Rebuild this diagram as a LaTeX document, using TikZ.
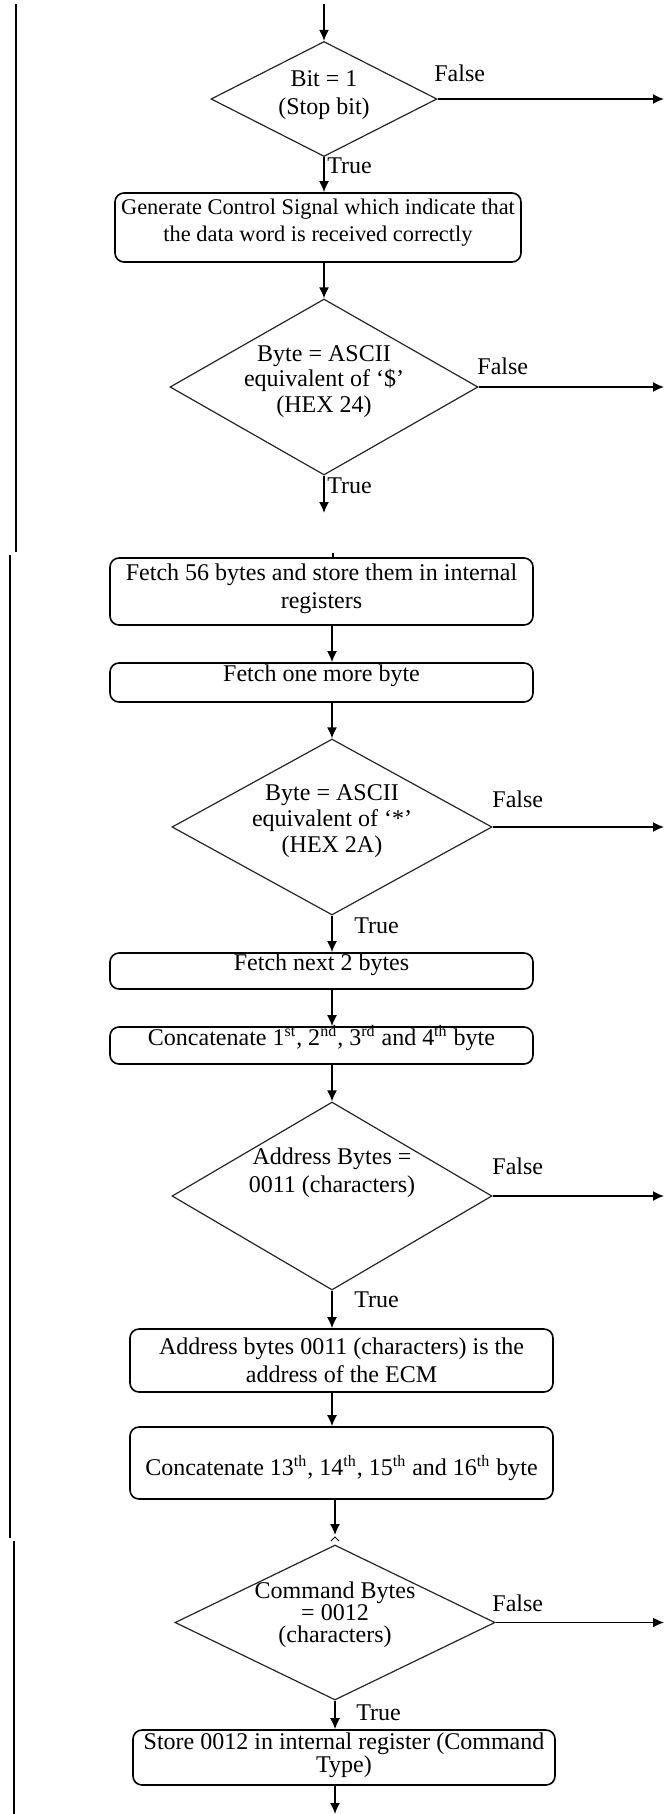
\documentclass[tikz,border=0pt]{standalone}
\usepackage{fontspec}
\setmainfont{Liberation Serif}
\usetikzlibrary{shapes.geometric,arrows.meta}
\begin{document}
\begin{tikzpicture}[x=0.5pt,y=-0.5pt,
  decision/.style={diamond,draw=black!85,line width=0.6pt,inner sep=0pt},
  stepbox/.style={rectangle,rounded corners=4.5pt,draw=black,line width=0.8pt,inner sep=0pt},
  txt/.style={align=center,inner sep=0pt,font=\fontsize{12}{14}\selectfont},
  lbl/.style={inner sep=0pt,font=\fontsize{12}{14}\selectfont},
  arr/.style={draw=black,line width=0.8pt,-{Latex[length=5.5pt,width=5pt]}},
  rail/.style={draw=black,line width=1pt}]

\fill[white] (0,0) rectangle (664,1814);
\useasboundingbox (0,0) rectangle (664,1814);

\coordinate (top) at (324,4);
\coordinate (edge) at (664,0);
\coordinate (bottom) at (0,1814);

% ---- first part: stop bit and start character ----
\node[decision,minimum width=113pt,minimum height=57.5pt] (d1) at (324,99) {};
\node[txt] (d1t) at (324,95.5) {Bit = 1\\(Stop bit)};
\node[lbl,anchor=west] (f1) at (434,73) {False};
\node[lbl,anchor=west] (tr1) at (327,166) {True};

\node[stepbox,minimum width=203pt,minimum height=34.5pt] (b1) at (318,227.5) {};
\node[txt,font=\fontsize{11.2}{13.5}\selectfont] (b1t) at (318,222.5)
  {Generate Control Signal which indicate that\\the data word is received correctly};

\node[decision,minimum width=154pt,minimum height=88pt] (d2) at (324,387) {};
\node[txt,font=\fontsize{12}{12.8}\selectfont] (d2t) at (324,381.5)
  {Byte = ASCII\\equivalent of ‘\$’\\(HEX 24)};
\node[lbl,anchor=west] (f2) at (477,366) {False};
\node[lbl,anchor=west] (tr2) at (327,486) {True};
\coordinate (gap1) at (324,513);

\draw[rail] (16,4) -- (16,552);

% ---- second part: frame bytes and address ----
\coordinate (stub) at (333,553);

\node[stepbox,minimum width=211.5pt,minimum height=33.5pt] (b2) at (321.5,591.5) {};
\node[txt] (b2t) at (321.5,589) {Fetch 56 bytes and store them in internal\\registers};

\node[stepbox,minimum width=211.5pt,minimum height=19.5pt] (b3) at (321.5,682.5) {};
\node[txt] (b3t) at (321.5,676) {Fetch one more byte};

\node[decision,minimum width=160pt,minimum height=88pt] (d3) at (332,827) {};
\node[txt,font=\fontsize{12}{12.8}\selectfont] (d3t) at (332,821)
  {Byte = ASCII\\equivalent of ‘*’\\(HEX 2A)};
\node[lbl,anchor=west] (f3) at (492,799) {False};
\node[lbl,anchor=west] (tr3) at (354,926) {True};

\node[stepbox,minimum width=211.5pt,minimum height=18pt] (b4) at (321.5,971) {};
\node[txt] (b4t) at (321.5,965) {Fetch next 2 bytes};

\node[stepbox,minimum width=211.5pt,minimum height=18.5pt] (b5) at (321.5,1045.5) {};
\node[txt] (b5t) at (321.5,1038)
  {Concatenate 1\textsuperscript{st}, 2\textsuperscript{nd}, 3\textsuperscript{rd} and 4\textsuperscript{th} byte};

\node[decision,minimum width=160pt,minimum height=94pt] (d4) at (332,1196) {};
\node[txt] (d4t) at (332,1173) {Address Bytes =\\0011 (characters)};
\node[lbl,anchor=west] (f4) at (492,1166) {False};
\node[lbl,anchor=west] (tr4) at (354,1300) {True};

\node[stepbox,minimum width=211.5pt,minimum height=31.5pt] (b6) at (341.5,1360.5) {};
\node[txt] (b6t) at (341.5,1360) {Address bytes 0011 (characters) is the\\address of the ECM};

\node[stepbox,minimum width=211.5pt,minimum height=36pt] (b7) at (341.5,1463) {};
\node[txt] (b7t) at (341.5,1468)
  {Concatenate 13\textsuperscript{th}, 14\textsuperscript{th}, 15\textsuperscript{th} and 16\textsuperscript{th} byte};
\coordinate (gap2) at (335,1535);

\draw[rail] (9.5,555) -- (9.5,1538);

% ---- third part: command bytes ----
\node[decision,minimum width=160pt,minimum height=77.5pt] (d5) at (335,1622.5) {};
\node[txt,font=\fontsize{12}{11}\selectfont] (d5t) at (335,1614.5)
  {Command Bytes\\= 0012\\(characters)};
\node[lbl,anchor=west] (f5) at (492,1603) {False};
\node[lbl,anchor=west] (tr5) at (356,1713) {True};

\node[stepbox,minimum width=211pt,minimum height=27.5pt] (b8) at (344,1757.5) {};
\node[txt,font=\fontsize{12}{11.5}\selectfont] (b8t) at (344,1755.5)
  {Store 0012 in internal register (Command\\Type)};

\draw[rail] (13.5,1541) -- (13.5,1814);

% ---- connectors ----
\draw[arr] (top) -- (d1.north);
\draw[arr] (d1.east) -- (d1.east -| edge);
\draw[arr] (d1.south) -- (d1.south |- b1.north);
\draw[arr] (b1.south -| d2.north) -- (d2.north);
\draw[arr] (d2.east) -- (d2.east -| edge);
\draw[arr] (d2.south) -- (gap1);

\draw[line width=0.8pt] (stub) -- (stub |- b2.north);
\draw[arr] (b2.south -| d3.north) -- (b3.north -| d3.north);
\draw[arr] (b3.south -| d3.north) -- (d3.north);
\draw[arr] (d3.east) -- (d3.east -| edge);
\draw[arr] (d3.south) -- (d3.south |- b4.north);
\draw[arr] (b4.south -| d3.south) -- (b5.north -| d3.south);
\draw[arr] (b5.south -| d4.north) -- (d4.north);
\draw[arr] (d4.east) -- (d4.east -| edge);
\draw[arr] (d4.south) -- (d4.south |- b6.north);
\draw[arr] (b6.south -| d4.south) -- (b7.north -| d4.south);
\draw[arr] (b7.south -| gap2) -- (gap2);

\draw[line width=0.5pt] (331,1541) -- (335,1537) -- (339,1541);
\draw[arr] (d5.east) -- (d5.east -| edge);
\draw[arr] (d5.south) -- (d5.south |- b8.north);
\draw[arr] (b8.south -| d5.south) -- (d5.south |- bottom);
\end{tikzpicture}
\end{document}
